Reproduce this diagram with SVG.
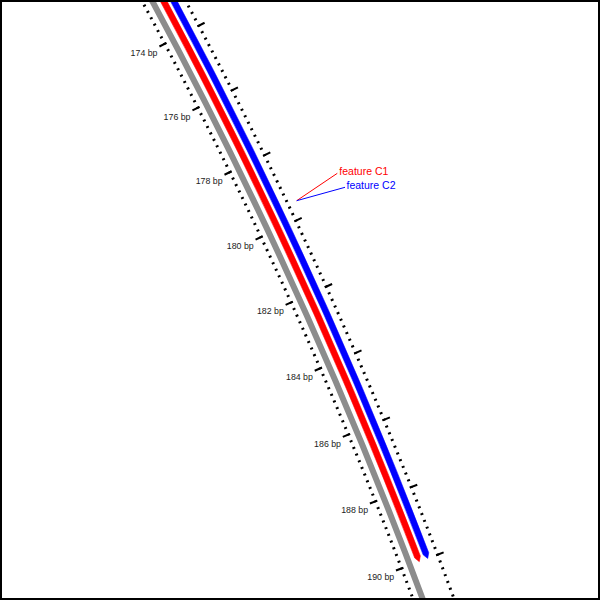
<svg xmlns="http://www.w3.org/2000/svg" width="600" height="600" viewBox="0 0 600 600">
<style>
.bg{fill:#fff}
.frame{fill:none;stroke:#000;stroke-width:2}
.tick{fill:none;stroke:#000}
.minor{stroke-width:3;stroke-dasharray:0.556 1.444;stroke-dashoffset:0.278}
.major{stroke-width:8;stroke-dasharray:0.556 19.444;stroke-dashoffset:0.278}
.backbone{fill:none;stroke:#8c8c8c;stroke-width:6}
.lbl{font-family:"Liberation Sans",Arial,sans-serif;font-size:8.8px;fill:#222;text-anchor:end}
.flbl{font-family:"Liberation Sans",Arial,sans-serif;font-size:10.5px}
.lead{fill:none;stroke-width:1}
</style>
<rect class="bg" x="0" y="0" width="600" height="600"/>
<g id="ruler">
  <g transform="translate(-4053,2263) rotate(-28.618)">
    <path class="tick minor" pathLength="196" d="M 4766 0 A 4766 4766 0 0 1 4713.86 703.06"/>
    <path class="tick major" pathLength="196" d="M 4764 0 A 4764 4764 0 0 1 4711.88 702.76"/>
    <path class="tick minor" pathLength="196" d="M 4804.5 0 A 4804.5 4804.5 0 0 1 4751.94 708.74"/>
    <path class="tick major" pathLength="196" d="M 4807 0 A 4807 4807 0 0 1 4754.41 709.11"/>
  </g>
  <g id="ruler-labels">
    <text class="lbl" x="157.5" y="55.9">174 bp</text>
    <text class="lbl" x="190.5" y="119.8">176 bp</text>
    <text class="lbl" x="222.6" y="184.4">178 bp</text>
    <text class="lbl" x="253.7" y="249.1">180 bp</text>
    <text class="lbl" x="283.8" y="314.4">182 bp</text>
    <text class="lbl" x="312.9" y="380.4">184 bp</text>
    <text class="lbl" x="341.0" y="446.6">186 bp</text>
    <text class="lbl" x="368.1" y="513.3">188 bp</text>
    <text class="lbl" x="394.2" y="580.3">190 bp</text>
  </g>
</g>
<g id="backbone" transform="translate(-4053,2263) rotate(-29)">
  <path class="backbone" d="M 4775 0 A 4775 4775 0 0 1 4709.52 788.10"/>
</g>
<g id="feature-C1" transform="translate(-4053,2263) rotate(-20.828)">
  <path fill="#ff0000" stroke="#ff0000" stroke-width="0.5" stroke-linejoin="round" d="M 4735.4 -707.7 A 4788 4788 0 0 1 4788 -5 L 4785 0 L 4782 -5 A 4782 4782 0 0 0 4729.5 -706.8 Z"/>
</g>
<g id="feature-C2" transform="translate(-4053,2263) rotate(-20.828)">
  <path fill="#0000ff" stroke="#0000ff" stroke-width="0.5" stroke-linejoin="round" d="M 4744.3 -709.0 A 4797 4797 0 0 1 4797 -5 L 4794 0 L 4791 -5 A 4791 4791 0 0 0 4738.4 -708.2 Z"/>
</g>
<g id="connectors">
  <line class="lead" stroke="#ff0000" x1="296.7" y1="200.7" x2="337.3" y2="173.3"/>
  <line class="lead" stroke="#0000ff" x1="296.7" y1="200.7" x2="345" y2="187.3"/>
</g>
<g id="label-C1"><text class="flbl" fill="#ff0000" x="339.3" y="174.5">feature C1</text></g>
<g id="label-C2"><text class="flbl" fill="#0000ff" x="346.5" y="189.3">feature C2</text></g>
<rect class="frame" x="1" y="1" width="598" height="598"/>
</svg>
